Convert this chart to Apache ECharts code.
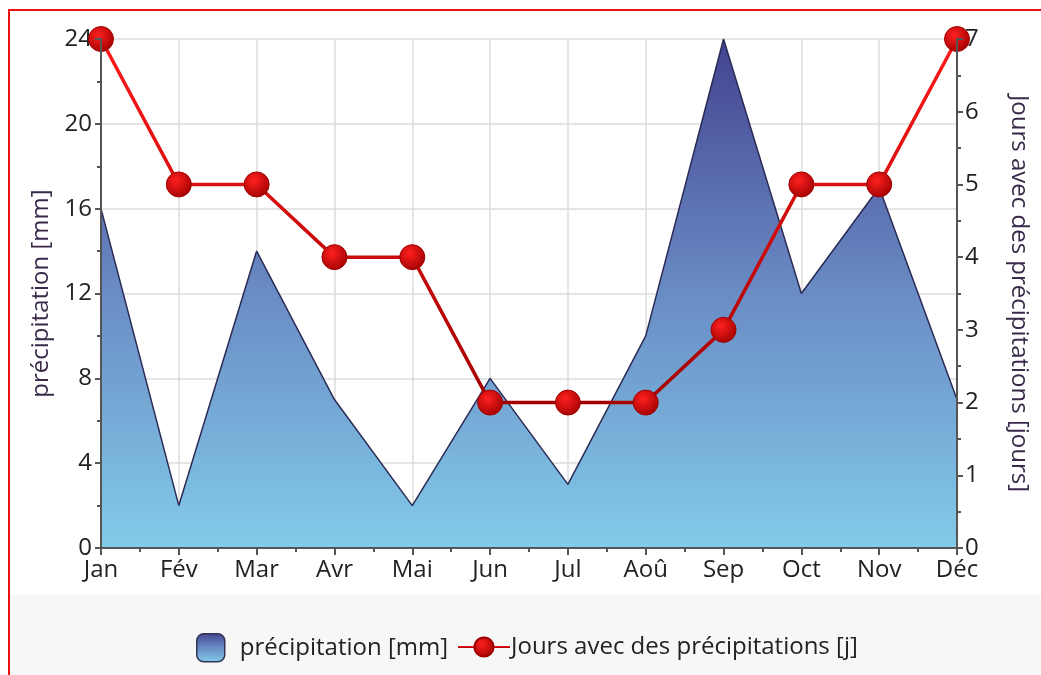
<!DOCTYPE html>
<html>
<head>
<meta charset="utf-8">
<script src="https://cdn.jsdelivr.net/npm/echarts@6/dist/echarts.min.js"></script>
<style>
  body { margin: 0; background: #fff; }
  #main { width: 1041px; height: 675px; }
</style>
</head>
<body>
<div id="main"></div>
<script>
var months = ['Jan', 'Fév', 'Mar', 'Avr', 'Mai', 'Jun', 'Jul', 'Aoû', 'Sep', 'Oct', 'Nov', 'Déc'];
var precipitation = [16, 2, 14, 7, 2, 8, 3, 10, 24, 12, 17, 7];
var rainyDays = [7, 5, 5, 4, 4, 2, 2, 2, 3, 5, 5, 7];

var chartDom = document.getElementById('main');
var myChart = echarts.init(chartDom);
var option;

var font = '"Open Sans", "Noto Sans", sans-serif';
var fs = 24;
var axisLine = { show: true, lineStyle: { color: '#555', width: 2 } };
var tickStyle = { color: '#555', width: 2 };

var areaFill = new echarts.graphic.LinearGradient(0, 0, 0, 1, [
  { offset: 0, color: '#434390' },
  { offset: 0.5, color: '#6a8cc4' },
  { offset: 1, color: '#82cbea' }
]);
var dotFill = new echarts.graphic.RadialGradient(0.4, 0.35, 0.7, [
  { offset: 0, color: '#ff2020' },
  { offset: 1, color: '#a00000' }
]);

option = {
  animation: false,
  textStyle: { fontFamily: font },
  graphic: [
    { type: 'rect', shape: { x: 10, y: 595, width: 1031, height: 80 }, style: { fill: '#f7f7f7' }, z: -10 },
    { type: 'rect', shape: { x: 9, y: 10, width: 1060, height: 700 }, style: { fill: null, stroke: '#ee1111', lineWidth: 2 }, z: 100 }
  ],
  grid: { left: 101, right: 84, top: 39, bottom: 127 },
  legend: [
    {
      data: [{ name: 'précipitation [mm]', icon: 'roundRect' }],
      left: 191, top: 628, itemWidth: 28, itemHeight: 28,
      textStyle: { fontSize: fs, color: '#222', fontFamily: font, padding: [0, 0, 0, 10] },
      itemStyle: { borderColor: '#333355', borderWidth: 1.5 }
    },
    {
      data: ['Jours avec des précipitations [j]'],
      left: 452, top: 630, itemWidth: 52, itemHeight: 24,
      textStyle: { fontSize: fs, color: '#222', fontFamily: font, padding: [0, 0, 0, -4] }
    }
  ],
  xAxis: [
    {
      // labels, month ticks and vertical grid (under the area)
      type: 'category',
      data: months,
      boundaryGap: false,
      axisLine: { show: false },
      axisTick: { show: true, length: 7, lineStyle: tickStyle },
      axisLabel: { fontSize: fs, color: '#222', margin: 10 },
      splitLine: { show: true, lineStyle: { color: '#dcdcdc', width: 1.5 } }
    },
    {
      // axis line and minor ticks drawn on top
      type: 'value',
      position: 'bottom',
      min: 0, max: months.length - 1, interval: 0.5,
      z: 10,
      axisLine: axisLine,
      axisTick: { show: true, length: 4, lineStyle: tickStyle },
      axisLabel: { show: false },
      splitLine: { show: false }
    }
  ],
  yAxis: [
    {
      type: 'value',
      min: 0, max: 24, interval: 4,
      name: 'précipitation [mm]',
      nameLocation: 'middle',
      nameGap: 48,
      nameTextStyle: { fontSize: fs, color: '#3a2a4a' },
      axisLine: { show: false },
      axisTick: { show: false },
      axisLabel: { fontSize: fs, color: '#222', margin: 9 },
      splitLine: { show: true, lineStyle: { color: '#dcdcdc', width: 1.5 } }
    },
    {
      type: 'value',
      min: 0, max: 7, interval: 1,
      name: 'Jours avec des précipitations [jours]',
      nameLocation: 'middle',
      nameGap: 50,
      nameRotate: -90,
      z: 10,
      nameTextStyle: { fontSize: fs, color: '#3a2a4a' },
      axisLine: axisLine,
      axisTick: { show: true, length: 6, lineStyle: tickStyle },
      minorTick: { show: true, splitNumber: 2, length: 4, lineStyle: tickStyle },
      axisLabel: { fontSize: fs, color: '#222', margin: 8 },
      splitLine: { show: false }
    },
    {
      // left axis line and ticks on top of the area
      type: 'value',
      position: 'left',
      min: 0, max: 24, interval: 4,
      z: 10,
      axisLine: axisLine,
      axisTick: { show: true, length: 6, lineStyle: tickStyle },
      minorTick: { show: true, splitNumber: 2, length: 4, lineStyle: tickStyle },
      axisLabel: { show: false },
      splitLine: { show: false }
    }
  ],
  series: [
    {
      name: 'précipitation [mm]',
      type: 'line',
      xAxisIndex: 0,
      yAxisIndex: 0,
      data: precipitation,
      symbol: 'none',
      lineStyle: { color: '#2b2b55', width: 1.5 },
      itemStyle: { color: areaFill, borderColor: '#333355' },
      areaStyle: { color: areaFill, opacity: 1 },
      z: 2
    },
    {
      name: 'Jours avec des précipitations [j]',
      type: 'line',
      xAxisIndex: 0,
      yAxisIndex: 1,
      data: rainyDays,
      symbol: 'circle',
      symbolSize: 25,
      lineStyle: {
        width: 3.5,
        color: new echarts.graphic.LinearGradient(0, 0, 0, 1, [
          { offset: 0, color: '#ff1a1a' },
          { offset: 1, color: '#a30000' }
        ])
      },
      itemStyle: { color: dotFill, borderColor: '#a00000', borderWidth: 1 },
      z: 5
    }
  ]
};

option && myChart.setOption(option);
</script>
</body>
</html>
